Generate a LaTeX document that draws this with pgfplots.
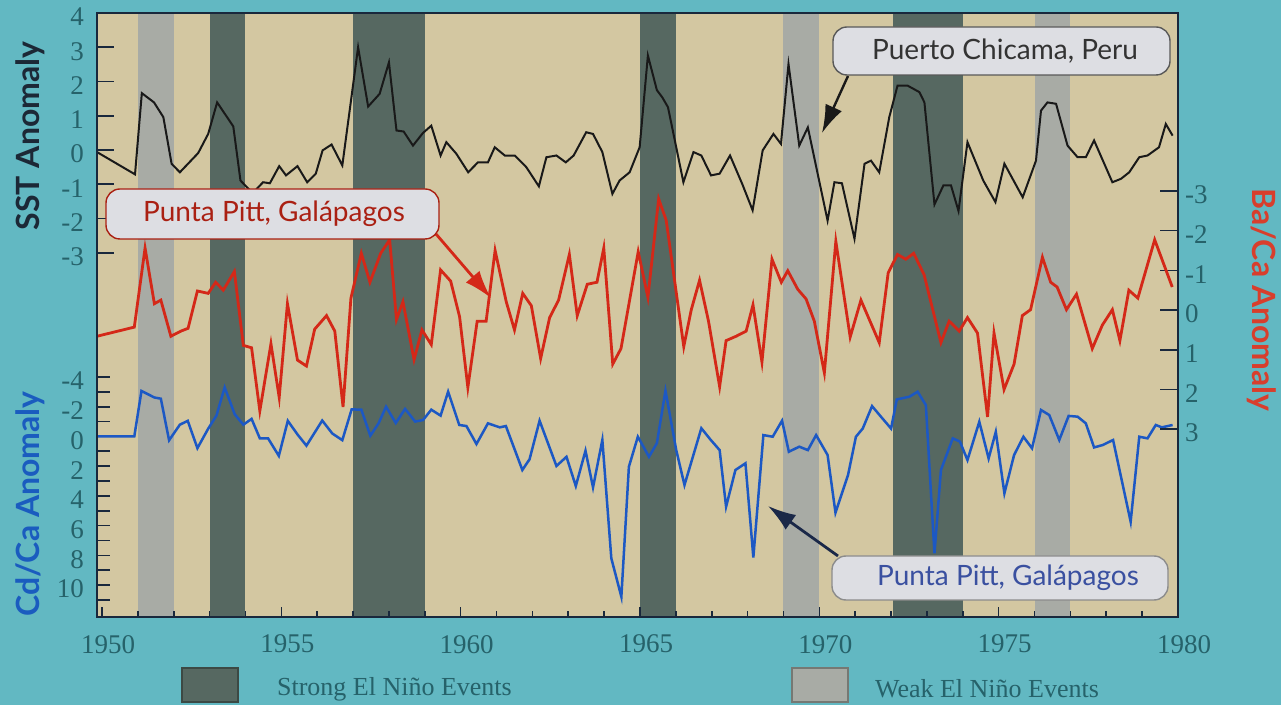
\documentclass[border=0pt]{standalone}
\usepackage{fontspec}
\setmainfont{Liberation Serif}
\newfontfamily\gill{Lato}
\usepackage{pgfplots}
\pgfplotsset{compat=1.18}
\usetikzlibrary{arrows.meta}

\definecolor{bgteal}{RGB}{98,184,194}
\definecolor{beige}{RGB}{211,199,161}
\definecolor{darkband}{RGB}{86,104,97}
\definecolor{lightband}{RGB}{168,171,165}
\definecolor{ticklab}{RGB}{38,98,106}
\definecolor{framec}{RGB}{25,40,60}
\definecolor{sstc}{RGB}{25,25,25}
\definecolor{redc}{RGB}{212,40,24}
\definecolor{bluec}{RGB}{28,88,196}
\definecolor{boxfill}{RGB}{221,222,227}
\definecolor{sstT}{RGB}{28,40,54}
\definecolor{redT}{RGB}{216,62,44}
\definecolor{blueT}{RGB}{26,92,191}
\definecolor{boxblue}{RGB}{58,80,160}
\definecolor{navy}{RGB}{26,40,72}

\pgfplotsset{
  ov/.style={at={(48.5pt,-308.5pt)}, anchor=south west, scale only axis,
    width=540.5pt, height=302pt, xmin=1949.86, xmax=1980, clip=true},
  tl/.style={font=\fontsize{13.5}{16}\selectfont, text=ticklab},
}

\begin{document}
\begin{tikzpicture}[x=0.5pt,y=-0.5pt]
\useasboundingbox (0,0) rectangle (1281,705);
\fill[bgteal] (0,0) rectangle (1281,705);
\fill[beige] (97,13) rectangle (1178,617);

% El Nino bands
\begin{axis}[ov, hide axis, ymin=0, ymax=1]
\addplot[fill=lightband, draw=none] coordinates {(1951,0)(1952,0)(1952,1)(1951,1)} --cycle;
\addplot[fill=lightband, draw=none] coordinates {(1969,0)(1970,0)(1970,1)(1969,1)} --cycle;
\addplot[fill=lightband, draw=none] coordinates {(1976,0)(1977,0)(1977,1)(1976,1)} --cycle;
\addplot[fill=darkband, draw=none] coordinates {(1953,0)(1954,0)(1954,1)(1953,1)} --cycle;
\addplot[fill=darkband, draw=none] coordinates {(1957,0)(1959,0)(1959,1)(1957,1)} --cycle;
\addplot[fill=darkband, draw=none] coordinates {(1965,0)(1966,0)(1966,1)(1965,1)} --cycle;
\addplot[fill=darkband, draw=none] coordinates {(1972.05,0)(1974,0)(1974,1)(1972.05,1)} --cycle;
\end{axis}

% SST (Puerto Chicama)
\begin{axis}[ov, ymin=-13.63, ymax=4.0, axis line style={draw=none}, xtick=\empty,
  ytick={-3,-2,-1,0,1,2,3,4}, yticklabels={-3,-2,-1,0,1,2,3,4}, ytick pos=left,
  major tick length=8.5pt, tick style={framec, line width=0.8pt},
  yticklabel style={tl, xshift=-3pt, yshift=-2pt}]
\addplot[sstc, line width=1pt] table {
yr v
1949.86 -0.06
1950.92 -0.71
1951.11 1.66
1951.45 1.39
1951.71 0.96
1951.94 -0.40
1952.17 -0.65
1952.68 -0.09
1952.96 0.47
1953.21 1.39
1953.66 0.69
1953.86 -0.89
1954.20 -1.26
1954.49 -0.94
1954.68 -0.97
1954.94 -0.47
1955.13 -0.74
1955.45 -0.47
1955.72 -0.94
1955.96 -0.69
1956.15 -0.01
1956.40 0.16
1956.70 -0.45
1957.14 3.00
1957.42 1.27
1957.74 1.64
1958.00 2.56
1958.21 0.57
1958.41 0.54
1958.67 0.13
1958.95 0.50
1959.18 0.71
1959.44 -0.16
1959.60 0.23
1959.88 -0.11
1960.21 -0.65
1960.48 -0.36
1960.76 -0.36
1960.95 0.08
1961.23 -0.16
1961.51 -0.16
1961.83 -0.50
1962.18 -1.06
1962.39 -0.21
1962.67 -0.16
1962.93 -0.36
1963.15 -0.16
1963.50 0.52
1963.69 0.47
1963.95 -0.06
1964.23 -1.28
1964.43 -0.89
1964.71 -0.65
1964.99 0.08
1965.22 2.76
1965.47 1.75
1965.62 1.54
1965.78 1.25
1966.01 0.08
1966.21 -0.94
1966.49 -0.06
1966.71 -0.16
1966.98 -0.74
1967.22 -0.69
1967.51 -0.16
1967.85 -0.99
1968.14 -1.76
1968.42 -0.01
1968.72 0.47
1968.93 0.18
1969.14 2.51
1969.44 0.13
1969.68 0.66
1970.23 -2.06
1970.42 -0.94
1970.63 -0.97
1970.98 -2.59
1971.26 -0.40
1971.44 -0.31
1971.67 -0.65
1971.95 0.96
1972.18 1.88
1972.46 1.88
1972.79 1.69
1972.93 1.39
1973.21 -1.59
1973.46 -1.03
1973.67 -1.03
1973.88 -1.78
1974.13 0.23
1974.57 -0.89
1974.91 -1.52
1975.16 -0.40
1975.67 -1.38
1976.04 -0.31
1976.18 1.15
1976.36 1.39
1976.60 1.35
1976.92 0.13
1977.20 -0.21
1977.43 -0.21
1977.66 0.28
1978.17 -0.94
1978.41 -0.84
1978.64 -0.65
1978.92 -0.21
1979.15 -0.16
1979.47 0.08
1979.66 0.76
1979.85 0.42
};
\end{axis}

% Cd/Ca (Punta Pitt)
\begin{axis}[ov, y dir=reverse, ymin=-28.49, ymax=12.15, axis line style={draw=none}, xtick=\empty,
  ytick={-4,-2,0,2,4,6,8,10}, yticklabels={-4,-2,0,2,4,6,8,10},
  minor ytick={-3,-1,1,3,5,7,9,11}, ytick pos=left,
  major tick length=6.5pt, minor tick length=6.5pt, tick style={framec, line width=0.8pt},
  yticklabel style={tl, xshift=-3pt, yshift=-2pt}]
\addplot[bluec, line width=1.25pt] table {
yr v
1949.86 0
1950.90 0
1951.10 -3.06
1951.46 -2.62
1951.64 -2.54
1951.87 0.26
1952.17 -0.79
1952.39 -1.05
1952.66 0.79
1952.96 -0.52
1953.19 -1.40
1953.42 -3.30
1953.70 -1.49
1953.94 -0.79
1954.17 -1.18
1954.40 0.13
1954.63 0.13
1954.93 1.31
1955.18 -1.05
1955.46 -0.10
1955.70 0.62
1956.14 -1.07
1956.42 -0.20
1956.70 0.25
1956.96 -1.82
1957.23 -1.80
1957.48 -0.05
1957.71 -0.88
1957.92 -2.00
1958.19 -0.90
1958.45 -1.85
1958.73 -1.00
1958.95 -1.10
1959.18 -1.80
1959.44 -1.40
1959.65 -3.01
1959.96 -0.77
1960.16 -0.70
1960.44 0.51
1960.76 -0.88
1961.09 -0.61
1961.26 -0.70
1961.72 2.26
1961.92 1.54
1962.20 -1.06
1962.67 1.99
1962.95 1.37
1963.21 3.34
1963.48 0.96
1963.69 3.43
1963.95 0.24
1964.20 8.20
1964.48 10.79
1964.69 2.04
1964.94 0.02
1965.25 1.37
1965.47 0.46
1965.71 -3.08
1966.01 0.92
1966.24 3.27
1966.71 -0.55
1966.96 0.20
1967.22 0.92
1967.40 4.73
1967.66 2.26
1967.94 1.81
1968.16 8.14
1968.44 -0.09
1968.70 0.02
1968.96 -1.06
1969.15 1.03
1969.44 0.69
1969.68 0.92
1969.91 -0.09
1970.23 1.25
1970.45 5.13
1970.80 2.60
1971.02 0.02
1971.21 -0.53
1971.47 -2.04
1971.72 -1.32
1972.00 -0.53
1972.16 -2.49
1972.51 -2.67
1972.74 -3.01
1972.97 -2.11
1973.21 7.87
1973.39 2.26
1973.72 0.13
1973.92 0.35
1974.13 1.59
1974.46 -0.99
1974.72 1.48
1974.92 -0.31
1975.16 3.83
1975.43 1.25
1975.69 0.02
1975.93 0.80
1976.18 -1.78
1976.41 -1.44
1976.69 0.24
1976.95 -1.38
1977.20 -1.33
1977.43 -0.88
1977.66 0.74
1977.90 0.58
1978.19 0.24
1978.68 5.74
1978.92 0.02
1979.15 0.13
1979.38 -0.77
1979.55 -0.61
1979.85 -0.77
};
\end{axis}

% Ba/Ca (Punta Pitt)
\begin{axis}[ov, y dir=reverse, ymin=-7.48, ymax=7.73, axis line style={draw=none}, xtick=\empty,
  ytick={-3,-2,-1,0,1,2,3}, yticklabels={-3,-2,-1,0,1,2,3}, ytick pos=right,
  major tick length=9pt, tick style={framec, line width=0.8pt},
  yticklabel style={tl, yshift=-2pt}]
\addplot[redc, line width=1.4pt] table {
yr v
1949.86 0.66
1950.90 0.43
1951.20 -1.56
1951.46 -0.16
1951.64 -0.25
1951.92 0.66
1952.20 0.53
1952.40 0.46
1952.66 -0.48
1952.96 -0.42
1953.17 -0.70
1953.38 -0.50
1953.69 -0.97
1953.94 0.89
1954.17 0.95
1954.40 2.54
1954.71 0.85
1954.94 2.20
1955.17 -0.16
1955.45 1.26
1955.70 1.41
1955.93 0.48
1956.26 0.14
1956.49 0.53
1956.72 2.44
1956.94 -0.30
1957.23 -1.43
1957.47 -0.70
1957.77 -1.43
1958.02 -1.77
1958.21 0.24
1958.39 -0.21
1958.70 1.25
1958.92 0.50
1959.18 0.87
1959.44 -1.01
1959.72 -0.73
1959.97 0.17
1960.20 1.95
1960.46 0.28
1960.71 0.28
1960.96 -1.50
1961.27 -0.21
1961.50 0.50
1961.73 -0.42
1961.97 -0.11
1962.23 1.22
1962.48 0.19
1962.73 -0.25
1963.03 -1.40
1963.25 0.14
1963.53 -0.65
1963.80 -0.70
1963.99 -1.56
1964.24 1.36
1964.47 0.97
1964.95 -1.47
1965.22 -0.32
1965.52 -2.80
1965.73 -2.26
1966.22 0.92
1966.43 -0.01
1966.66 -0.75
1966.91 0.28
1967.22 1.93
1967.40 0.77
1967.68 0.66
1967.96 0.53
1968.15 -0.13
1968.40 1.31
1968.68 -1.28
1968.94 -0.70
1969.12 -0.99
1969.40 -0.52
1969.63 -0.28
1969.86 0.28
1970.14 1.58
1970.46 -1.73
1970.86 0.68
1971.16 -0.25
1971.67 0.82
1971.92 -0.94
1972.18 -1.40
1972.41 -1.28
1972.63 -1.43
1972.92 -0.89
1973.39 0.82
1973.62 0.28
1973.90 0.53
1974.13 0.19
1974.41 0.58
1974.69 2.69
1974.87 0.58
1975.15 2.00
1975.43 1.36
1975.66 0.14
1975.89 -0.01
1976.22 -1.33
1976.45 -0.70
1976.63 -0.58
1976.89 -0.01
1977.17 -0.40
1977.61 0.97
1977.89 0.38
1978.17 -0.01
1978.38 0.77
1978.63 -0.50
1978.88 -0.30
1979.35 -1.77
1979.84 -0.58
};
\end{axis}

% frame and year axis
\begin{axis}[ov, ymin=0, ymax=1, ytick=\empty,
  xtick={1950,1955,1960,1965,1970,1975,1980},
  xticklabels={1950,1955,1960,1965,1970,1975,1980},
  minor x tick num=4, xtick pos=left,
  major tick length=5pt, minor tick length=3pt,
  axis line style={framec, line width=1pt}, tick style={framec, line width=0.8pt},
  xticklabel style={tl, xshift=3pt, yshift=-5.5pt}]
\end{axis}

% axis titles
\node[font=\gill\bfseries\fontsize{16}{19}\selectfont, text=sstT, rotate=90] at (30,136) {SST Anomaly};
\node[font=\gill\bfseries\fontsize{16}{19}\selectfont, text=blueT, rotate=90] at (30,504) {Cd/Ca Anomaly};
\node[font=\gill\bfseries\fontsize{16}{19}\selectfont, text=redT, rotate=-90] at (1262,300) {Ba/Ca Anomaly};

% annotation arrows
\draw[sstc, line width=1.2pt, -{Latex[length=14pt,width=9pt]}] (848,76) -- (822,133);
\draw[redc, line width=1.4pt, -{Latex[length=14pt,width=9pt]}] (436,234) -- (491,298);
\draw[navy, line width=1.4pt, -{Latex[length=14pt,width=9pt]}] (838,556) -- (768,506);

% annotation boxes
\draw[rounded corners=7pt, fill=boxfill, draw=black!65, line width=0.7pt] (833,27) rectangle (1170,75);
\node[font=\gill\fontsize{14}{17}\selectfont, text=black!80] at (1005,51) {Puerto Chicama, Peru};
\draw[rounded corners=7pt, fill=boxfill, draw=redc!80!black, line width=0.7pt] (106,189) rectangle (439,239);
\node[font=\gill\fontsize{14}{17}\selectfont, text=redc!80!black] at (274,214) {Punta Pitt, Galápagos};
\draw[rounded corners=7pt, fill=boxfill, draw=black!45, line width=0.7pt] (832,556) rectangle (1168,600);
\node[font=\gill\fontsize{14}{17}\selectfont, text=boxblue] at (1008,578) {Punta Pitt, Galápagos};

% legend
\draw[fill=darkband, draw=darkband!70!black, line width=0.6pt] (182,668) rectangle (238,702);
\node[anchor=west, font=\fontsize{13}{16}\selectfont, text=ticklab] at (270,689) {Strong El Niño Events};
\draw[fill=lightband, draw=lightband!70!black, line width=0.6pt] (792,668) rectangle (848,702);
\node[anchor=west, font=\fontsize{13}{16}\selectfont, text=ticklab] at (868,689) {Weak El Niño Events};
\end{tikzpicture}
\end{document}
